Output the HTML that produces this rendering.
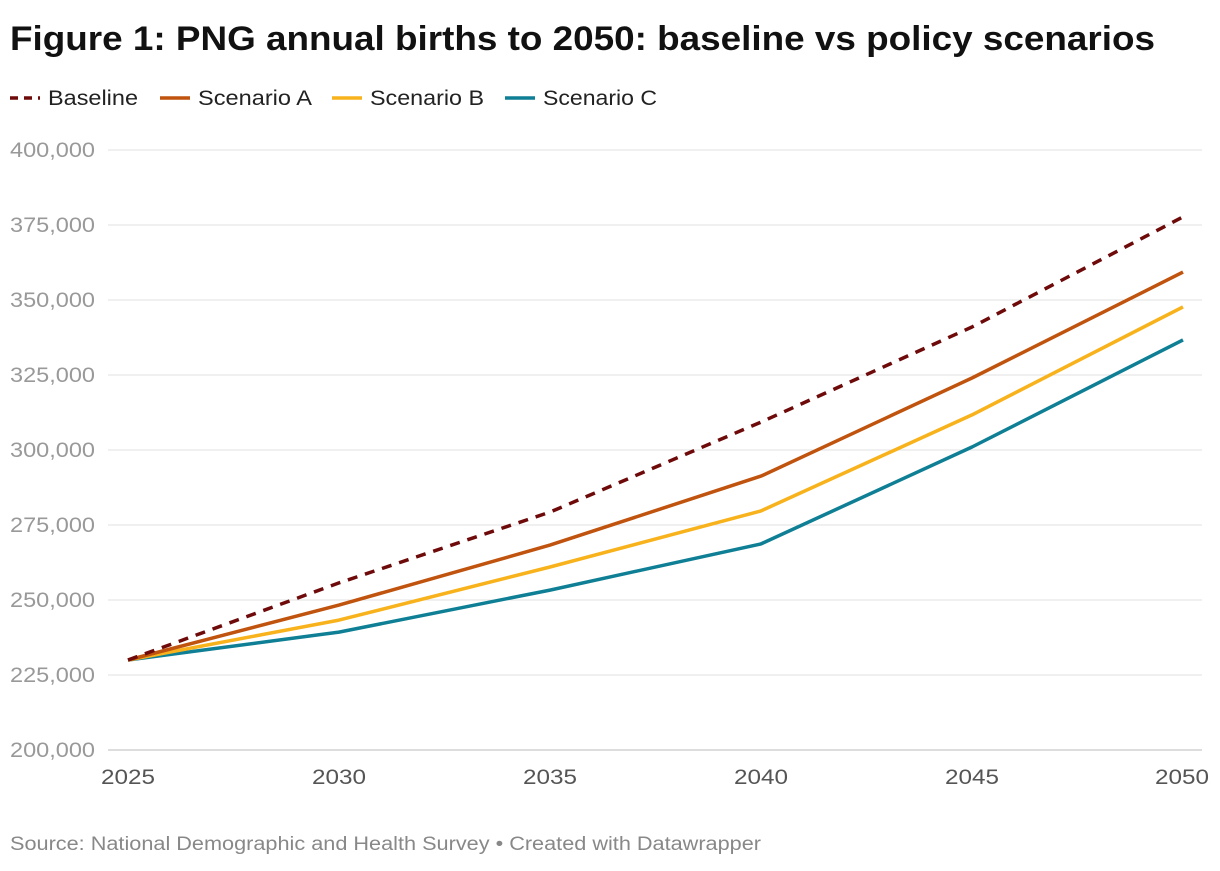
<!DOCTYPE html>
<html><head><meta charset="utf-8"><style>
body{margin:0;background:#fff;font-family:"Liberation Sans",sans-serif;}
</style></head><body>
<svg width="1220" height="866" font-family="Liberation Sans, sans-serif">
<text x="10" y="50" font-size="34" font-weight="bold" fill="#111" textLength="1145" lengthAdjust="spacingAndGlyphs">Figure 1: PNG annual births to 2050: baseline vs policy scenarios</text>
<g id="legend"></g>
<g id="grid"></g>
<g id="lines"></g>
<text x="10" y="850" font-size="19" fill="#888" textLength="751" lengthAdjust="spacingAndGlyphs">Source: National Demographic and Health Survey • Created with Datawrapper</text>
</svg>
<script>
const years=[2025,2030,2035,2040,2045,2050];
const baseline=[230000,255700,279300,309300,341000,377700];
const scenA=[230000,248300,268300,291300,324000,359300];
const scenB=[230000,243300,261000,279700,311700,347700];
const scenC=[230000,239300,253300,268700,301000,336700];
const yTicks=[200000,225000,250000,275000,300000,325000,350000,375000,400000];
const xTicks=[2025,2030,2035,2040,2045,2050];
const seriesNames=["Baseline","Scenario A","Scenario B","Scenario C"];
const NS="http://www.w3.org/2000/svg";
const xs=v=>128+(v-2025)/25*1055;
const ys=v=>750-(v-200000)/200000*600;
function mk(t,a,p){const e=document.createElementNS(NS,t);for(const k in a)e.setAttribute(k,a[k]);p.appendChild(e);return e;}
const grid=document.getElementById('grid');
yTicks.forEach(t=>{
 const l=mk('line',{x1:108,x2:1202,y1:ys(t),y2:ys(t),stroke:t===200000?'#bbb':'#e2e2e2','stroke-width':1},grid);
 
 
 const tx=mk('text',{x:10,y:ys(t)+7,'font-size':21,fill:'#999',textLength:85,lengthAdjust:'spacingAndGlyphs'},grid);
 tx.textContent=t.toLocaleString('en-US');
 
 
});
xTicks.forEach((t,i)=>{
 const anchor=i===0?'start':(i===xTicks.length-1?'end':'middle');
 const x=i===0?101:(i===xTicks.length-1?1209:xs(t));
 const tx=mk('text',{x:x,y:784,'font-size':21,fill:'#555','text-anchor':anchor,textLength:54,lengthAdjust:'spacingAndGlyphs'},grid);
 tx.textContent=t;
 
 
});
const colors=['#6e0a0a','#c0530d','#f7b21c','#0e7f95'];
const data=[baseline,scenA,scenB,scenC];
const lines=document.getElementById('lines');
[3,2,1,0].forEach(i=>{
 const d=years.map((y,j)=>(j?'L':'M')+xs(y)+','+ys(data[i][j])).join(' ');
 const p=mk('path',{d:d,fill:'none',stroke:colors[i],'stroke-width':3.5,'stroke-linejoin':'round','stroke-dasharray':i===0?'10,8':'none'},lines);
 
 
});
const lg=document.getElementById('legend');
const lx=[10,160,332,505];
const lw=[90,114,114,114];
seriesNames.forEach((n,i)=>{
 const g=mk('g',{},lg);
 
 
 mk('line',{x1:lx[i],x2:lx[i]+30,y1:98,y2:98,stroke:colors[i],'stroke-width':3.5,'stroke-dasharray':i===0?'8,6':'none'},g);
 const t=mk('text',{x:lx[i]+38,y:105,'font-size':21,fill:'#222',textLength:lw[i],lengthAdjust:'spacingAndGlyphs'},g);
 t.textContent=n;
});
</script>
</body></html>
